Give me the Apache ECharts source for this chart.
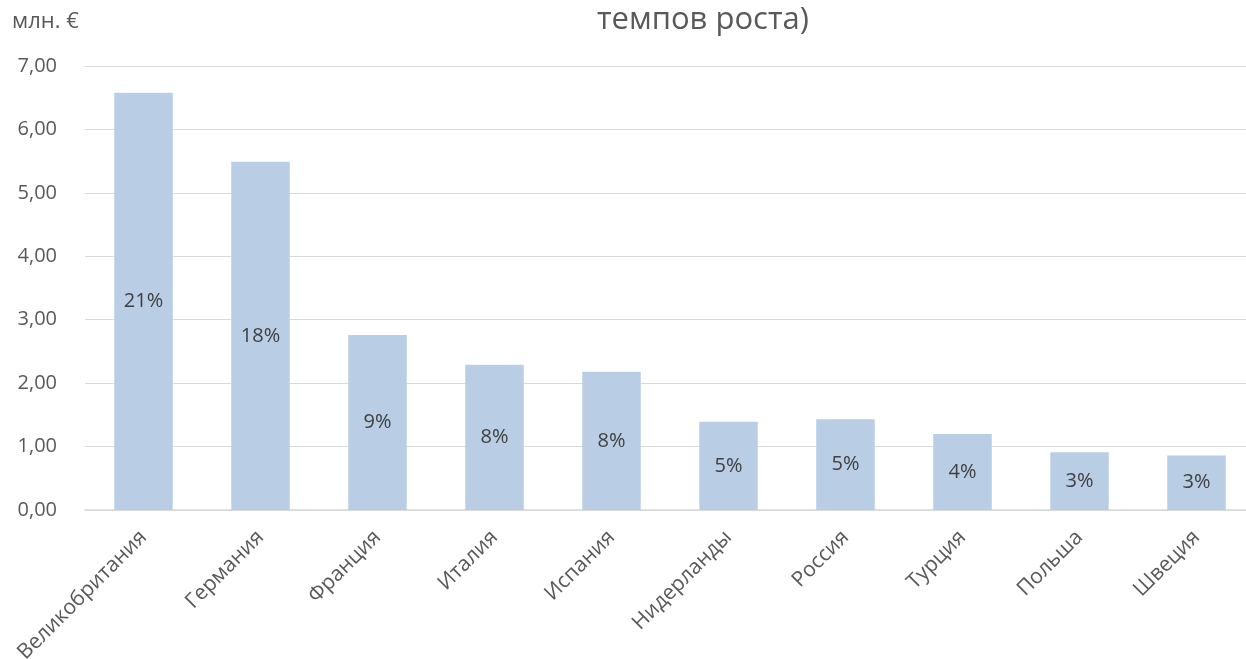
<!DOCTYPE html>
<html>
<head>
<meta charset="utf-8">
<script src="https://cdn.jsdelivr.net/npm/echarts@6/dist/echarts.min.js"></script>
<style>
html,body{margin:0;padding:0;background:#fff;}
#chart{width:1246px;height:659px;}
</style>
</head>
<body>
<div id="chart"></div>
<script>
const categories = ['Великобритания','Германия','Франция','Италия','Испания','Нидерланды','Россия','Турция','Польша','Швеция'];
const values = [6.58, 5.49, 2.76, 2.29, 2.18, 1.39, 1.43, 1.20, 0.91, 0.86];
const shares = ['21%','18%','9%','8%','8%','5%','5%','4%','3%','3%'];
const titleText = 'темпов роста)';
const unitText = 'млн. €';

const FONT = 'Open Sans';
const chart = echarts.init(document.getElementById('chart'));
chart.setOption({
  animation: false,
  backgroundColor: '#ffffff',
  title: {
    text: titleText,
    left: 592,
    top: 0,
    textStyle: {fontFamily: FONT, fontSize: 31, fontWeight: 'normal', color: '#595959'}
  },
  graphic: [{
    type: 'text', left: 12, top: 11,
    style: {text: unitText, fontFamily: FONT, fontSize: 22, fill: '#595959'}
  }],
  grid: {left: 85, top: 66, width: 1170, height: 444, containLabel: false, outerBoundsMode: 'none'},
  xAxis: {
    type: 'category',
    data: categories,
    axisLine: {show: true, lineStyle: {color: '#D9D9D9', width: 1.5}},
    axisTick: {show: false},
    axisLabel: {
      rotate: 45, interval: 0, margin: 24,
      fontFamily: FONT, fontSize: 21, color: '#595959'
    }
  },
  yAxis: {
    type: 'value', min: 0, max: 7, interval: 1,
    axisLine: {show: false},
    axisTick: {show: false},
    splitLine: {lineStyle: {color: '#D9D9D9', width: 1}},
    axisLabel: {
      margin: 28, fontFamily: FONT, fontSize: 20, color: '#595959',
      formatter: v => v.toFixed(2).replace('.', ',')
    }
  },
  series: [{
    type: 'bar',
    data: values,
    barCategoryGap: '50%',
    itemStyle: {color: '#B9CDE5'},
    label: {
      show: true, position: 'inside',
      fontFamily: FONT, fontSize: 20, color: '#404040',
      formatter: p => shares[p.dataIndex]
    }
  }]
});
</script>
</body>
</html>
